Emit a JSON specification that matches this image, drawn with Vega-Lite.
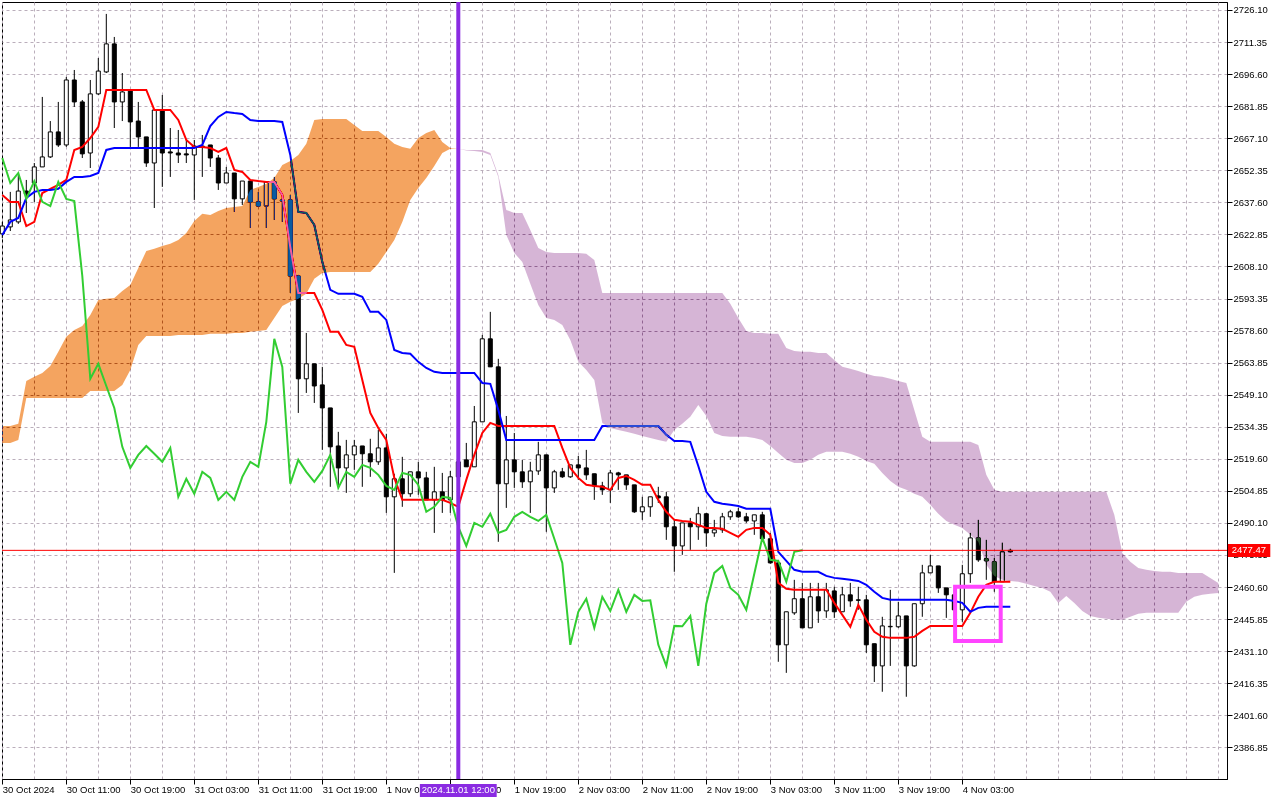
{
  "$schema": "https://vega.github.io/schema/vega-lite/v6.json",
  "width": 1225,
  "height": 777,
  "autosize": {"type": "none"},
  "padding": {"left": 2, "top": 2, "right": 53, "bottom": 21},
  "background": "white",
  "config": {
    "view": {"stroke": "black", "strokeWidth": 1, "fill": "white"},
    "font": "Liberation Sans",
    "axis": {"labelOverlap": false, "labelSeparation": 0}
  },
  "datasets": {
    "bars": [
      {"t":"2024-10-30T03:00Z","o":2623.1,"h":2628.6,"l":2621.2,"c":2626.7,"tk":2641.0,"kj":2622.6,"ck":2658.0},
      {"t":"2024-10-30T04:00Z","o":2626.3,"h":2642.4,"l":2624.4,"c":2629.5,"tk":2637.8,"kj":2628.6,"ck":2646.5},
      {"t":"2024-10-30T05:00Z","o":2628.6,"h":2650.2,"l":2627.7,"c":2642.8,"tk":2637.8,"kj":2630.4,"ck":2651.1},
      {"t":"2024-10-30T06:00Z","o":2642.8,"h":2647.9,"l":2632.7,"c":2641.5,"tk":2626.7,"kj":2639.6,"ck":2639.2},
      {"t":"2024-10-30T07:00Z","o":2646.5,"h":2655.7,"l":2637.8,"c":2653.9,"tk":2628.6,"kj":2642.4,"ck":2647.4},
      {"t":"2024-10-30T08:00Z","o":2653.9,"h":2686.1,"l":2653.9,"c":2658.5,"tk":2641.9,"kj":2643.3,"ck":2637.8},
      {"t":"2024-10-30T09:00Z","o":2658.5,"h":2675.0,"l":2658.0,"c":2670.0,"tk":2643.8,"kj":2643.3,"ck":2635.9},
      {"t":"2024-10-30T10:00Z","o":2670.0,"h":2683.8,"l":2663.1,"c":2664.0,"tk":2645.6,"kj":2643.8,"ck":2647.0},
      {"t":"2024-10-30T11:00Z","o":2664.0,"h":2695.3,"l":2663.1,"c":2693.9,"tk":2647.9,"kj":2647.0,"ck":2639.2},
      {"t":"2024-10-30T12:00Z","o":2693.9,"h":2698.5,"l":2681.5,"c":2683.8,"tk":2661.7,"kj":2649.3,"ck":2638.2},
      {"t":"2024-10-30T13:00Z","o":2683.8,"h":2684.7,"l":2658.0,"c":2659.9,"tk":2663.1,"kj":2649.3,"ck":2603.7},
      {"t":"2024-10-30T14:00Z","o":2660.3,"h":2693.9,"l":2653.4,"c":2687.5,"tk":2667.2,"kj":2649.7,"ck":2556.4},
      {"t":"2024-10-30T15:00Z","o":2687.5,"h":2704.0,"l":2687.0,"c":2698.0,"tk":2672.3,"kj":2651.1,"ck":2563.3},
      {"t":"2024-10-30T16:00Z","o":2697.6,"h":2724.3,"l":2697.1,"c":2710.5,"tk":2689.3,"kj":2661.7,"ck":2553.1},
      {"t":"2024-10-30T17:00Z","o":2710.5,"h":2713.7,"l":2671.8,"c":2683.8,"tk":2689.3,"kj":2662.6,"ck":2543.0},
      {"t":"2024-10-30T18:00Z","o":2683.8,"h":2697.1,"l":2675.0,"c":2688.4,"tk":2689.3,"kj":2662.6,"ck":2525.1},
      {"t":"2024-10-30T19:00Z","o":2688.8,"h":2689.3,"l":2663.1,"c":2674.6,"tk":2689.3,"kj":2662.6,"ck":2515.4},
      {"t":"2024-10-30T20:00Z","o":2675.0,"h":2683.8,"l":2663.1,"c":2667.7,"tk":2689.3,"kj":2662.6,"ck":2521.4},
      {"t":"2024-10-30T21:00Z","o":2667.7,"h":2667.7,"l":2653.9,"c":2655.7,"tk":2689.3,"kj":2662.6,"ck":2525.5},
      {"t":"2024-10-30T22:00Z","o":2655.7,"h":2680.1,"l":2635.0,"c":2680.1,"tk":2680.1,"kj":2662.6,"ck":2521.9},
      {"t":"2024-10-30T23:00Z","o":2680.1,"h":2687.0,"l":2644.7,"c":2660.3,"tk":2680.1,"kj":2662.6,"ck":2518.2},
      {"t":"2024-10-31T00:00Z","o":2660.8,"h":2671.8,"l":2649.3,"c":2660.3,"tk":2680.1,"kj":2662.6,"ck":2524.6},
      {"t":"2024-10-31T01:00Z","o":2660.3,"h":2670.9,"l":2655.7,"c":2659.4,"tk":2675.5,"kj":2662.6,"ck":2502.1},
      {"t":"2024-10-31T02:00Z","o":2659.9,"h":2666.3,"l":2655.7,"c":2659.4,"tk":2666.3,"kj":2662.6,"ck":2510.4},
      {"t":"2024-10-31T03:00Z","o":2659.4,"h":2666.3,"l":2638.7,"c":2663.5,"tk":2663.1,"kj":2662.6,"ck":2503.5},
      {"t":"2024-10-31T04:00Z","o":2663.5,"h":2668.6,"l":2649.3,"c":2663.1,"tk":2663.1,"kj":2664.0,"ck":2513.6},
      {"t":"2024-10-31T05:00Z","o":2664.0,"h":2664.0,"l":2653.9,"c":2658.0,"tk":2662.6,"kj":2672.7,"ck":2510.8},
      {"t":"2024-10-31T06:00Z","o":2658.0,"h":2659.4,"l":2643.3,"c":2646.5,"tk":2660.8,"kj":2676.9,"ck":2500.7},
      {"t":"2024-10-31T07:00Z","o":2646.5,"h":2653.9,"l":2646.5,"c":2651.1,"tk":2662.6,"kj":2679.2,"ck":2504.4},
      {"t":"2024-10-31T08:00Z","o":2651.1,"h":2651.1,"l":2633.2,"c":2639.2,"tk":2652.5,"kj":2678.7,"ck":2500.7},
      {"t":"2024-10-31T09:00Z","o":2639.2,"h":2647.4,"l":2636.4,"c":2647.4,"tk":2651.6,"kj":2678.3,"ck":2511.3},
      {"t":"2024-10-31T10:00Z","o":2647.4,"h":2647.4,"l":2625.8,"c":2637.8,"tk":2647.9,"kj":2675.5,"ck":2518.2},
      {"t":"2024-10-31T11:00Z","o":2637.8,"h":2642.4,"l":2635.5,"c":2635.9,"tk":2647.4,"kj":2675.0,"ck":2515.9},
      {"t":"2024-10-31T12:00Z","o":2635.9,"h":2647.0,"l":2625.8,"c":2647.0,"tk":2647.0,"kj":2675.0,"ck":2536.6},
      {"t":"2024-10-31T13:00Z","o":2647.0,"h":2649.3,"l":2629.5,"c":2639.2,"tk":2647.0,"kj":2675.0,"ck":2574.8},
      {"t":"2024-10-31T14:00Z","o":2638.7,"h":2639.6,"l":2628.6,"c":2638.2,"tk":2641.0,"kj":2674.6,"ck":2561.9},
      {"t":"2024-10-31T15:00Z","o":2638.7,"h":2641.0,"l":2595.9,"c":2603.7,"tk":2617.0,"kj":2659.4,"ck":2508.1},
      {"t":"2024-10-31T16:00Z","o":2603.7,"h":2604.2,"l":2540.7,"c":2556.4,"tk":2595.9,"kj":2633.2,"ck":2519.1},
      {"t":"2024-10-31T17:00Z","o":2556.4,"h":2577.5,"l":2549.9,"c":2563.3,"tk":2595.9,"kj":2632.7,"ck":2513.6},
      {"t":"2024-10-31T18:00Z","o":2563.3,"h":2563.3,"l":2545.3,"c":2553.1,"tk":2595.9,"kj":2627.2,"ck":2509.0},
      {"t":"2024-10-31T19:00Z","o":2553.6,"h":2561.9,"l":2523.7,"c":2543.0,"tk":2588.1,"kj":2610.2,"ck":2514.0},
      {"t":"2024-10-31T20:00Z","o":2543.0,"h":2543.0,"l":2506.7,"c":2525.1,"tk":2578.0,"kj":2597.3,"ck":2521.4},
      {"t":"2024-10-31T21:00Z","o":2525.5,"h":2532.0,"l":2506.7,"c":2515.4,"tk":2578.0,"kj":2595.5,"ck":2506.2},
      {"t":"2024-10-31T22:00Z","o":2515.4,"h":2528.3,"l":2503.9,"c":2521.4,"tk":2572.0,"kj":2595.5,"ck":2513.6},
      {"t":"2024-10-31T23:00Z","o":2521.4,"h":2528.3,"l":2514.5,"c":2525.5,"tk":2571.1,"kj":2595.5,"ck":2511.3},
      {"t":"2024-11-01T00:00Z","o":2525.5,"h":2525.5,"l":2506.7,"c":2521.9,"tk":2555.9,"kj":2594.1,"ck":2516.8},
      {"t":"2024-11-01T01:00Z","o":2521.9,"h":2528.8,"l":2511.3,"c":2518.2,"tk":2540.7,"kj":2587.2,"ck":2515.4},
      {"t":"2024-11-01T02:00Z","o":2518.2,"h":2532.9,"l":2516.8,"c":2524.6,"tk":2533.8,"kj":2587.2,"ck":2512.2},
      {"t":"2024-11-01T03:00Z","o":2524.6,"h":2531.1,"l":2494.7,"c":2502.1,"tk":2528.3,"kj":2583.5,"ck":2507.1},
      {"t":"2024-11-01T04:00Z","o":2502.1,"h":2512.7,"l":2467.1,"c":2510.4,"tk":2510.8,"kj":2569.7,"ck":2505.3},
      {"t":"2024-11-01T05:00Z","o":2510.4,"h":2520.5,"l":2497.5,"c":2503.5,"tk":2500.7,"kj":2568.3,"ck":2513.1},
      {"t":"2024-11-01T06:00Z","o":2503.5,"h":2513.6,"l":2502.1,"c":2513.6,"tk":2500.7,"kj":2567.9,"ck":2512.2},
      {"t":"2024-11-01T07:00Z","o":2513.6,"h":2518.2,"l":2503.0,"c":2510.8,"tk":2500.7,"kj":2564.2,"ck":2507.6},
      {"t":"2024-11-01T08:00Z","o":2510.8,"h":2513.6,"l":2500.7,"c":2500.7,"tk":2500.7,"kj":2561.4,"ck":2495.2},
      {"t":"2024-11-01T09:00Z","o":2500.7,"h":2515.9,"l":2485.5,"c":2504.4,"tk":2500.7,"kj":2559.6,"ck":2497.5},
      {"t":"2024-11-01T10:00Z","o":2504.4,"h":2513.1,"l":2494.7,"c":2500.7,"tk":2500.7,"kj":2559.1,"ck":2502.1},
      {"t":"2024-11-01T11:00Z","o":2500.7,"h":2514.0,"l":2494.7,"c":2511.3,"tk":2499.3,"kj":2559.1,"ck":2501.6},
      {"t":"2024-11-01T12:00Z","o":2511.3,"h":2521.4,"l":2505.3,"c":2518.2,"tk":2497.5,"kj":2559.1,"ck":2488.3},
      {"t":"2024-11-01T13:00Z","o":2519.1,"h":2526.9,"l":2515.9,"c":2515.9,"tk":2509.9,"kj":2559.1,"ck":2479.5},
      {"t":"2024-11-01T14:00Z","o":2515.9,"h":2543.9,"l":2515.9,"c":2536.6,"tk":2521.4,"kj":2559.1,"ck":2490.1},
      {"t":"2024-11-01T15:00Z","o":2536.6,"h":2576.6,"l":2536.6,"c":2574.8,"tk":2531.5,"kj":2554.5,"ck":2488.3},
      {"t":"2024-11-01T16:00Z","o":2574.8,"h":2587.2,"l":2561.9,"c":2561.9,"tk":2536.1,"kj":2554.1,"ck":2494.3},
      {"t":"2024-11-01T17:00Z","o":2561.9,"h":2565.6,"l":2481.4,"c":2508.1,"tk":2534.7,"kj":2542.1,"ck":2485.5},
      {"t":"2024-11-01T18:00Z","o":2508.1,"h":2539.3,"l":2497.0,"c":2519.1,"tk":2534.7,"kj":2528.3,"ck":2486.9},
      {"t":"2024-11-01T19:00Z","o":2519.1,"h":2531.5,"l":2506.2,"c":2513.6,"tk":2534.7,"kj":2528.3,"ck":2492.9},
      {"t":"2024-11-01T20:00Z","o":2513.6,"h":2519.1,"l":2506.2,"c":2509.0,"tk":2534.7,"kj":2528.3,"ck":2495.2},
      {"t":"2024-11-01T21:00Z","o":2509.0,"h":2518.2,"l":2494.7,"c":2514.0,"tk":2534.7,"kj":2528.3,"ck":2492.9},
      {"t":"2024-11-01T22:00Z","o":2514.0,"h":2527.4,"l":2512.2,"c":2521.4,"tk":2534.7,"kj":2528.3,"ck":2491.0},
      {"t":"2024-11-01T23:00Z","o":2521.4,"h":2521.4,"l":2486.0,"c":2506.2,"tk":2534.7,"kj":2528.3,"ck":2493.8},
      {"t":"2024-11-02T00:00Z","o":2506.2,"h":2514.5,"l":2503.9,"c":2513.6,"tk":2534.7,"kj":2528.3,"ck":2482.8},
      {"t":"2024-11-02T01:00Z","o":2513.6,"h":2515.4,"l":2510.8,"c":2511.3,"tk":2524.6,"kj":2528.3,"ck":2471.7},
      {"t":"2024-11-02T02:00Z","o":2511.3,"h":2516.8,"l":2510.8,"c":2516.8,"tk":2515.4,"kj":2528.3,"ck":2434.0},
      {"t":"2024-11-02T03:00Z","o":2516.8,"h":2520.9,"l":2509.9,"c":2515.4,"tk":2510.8,"kj":2528.3,"ck":2449.2},
      {"t":"2024-11-02T04:00Z","o":2515.4,"h":2523.7,"l":2509.9,"c":2512.2,"tk":2507.6,"kj":2528.3,"ck":2455.2},
      {"t":"2024-11-02T05:00Z","o":2512.7,"h":2512.7,"l":2500.7,"c":2507.1,"tk":2507.1,"kj":2528.3,"ck":2441.8},
      {"t":"2024-11-02T06:00Z","o":2507.1,"h":2509.0,"l":2503.0,"c":2505.3,"tk":2506.7,"kj":2534.7,"ck":2456.1},
      {"t":"2024-11-02T07:00Z","o":2505.3,"h":2514.5,"l":2499.3,"c":2513.1,"tk":2505.3,"kj":2534.7,"ck":2449.6},
      {"t":"2024-11-02T08:00Z","o":2513.1,"h":2513.6,"l":2505.3,"c":2512.2,"tk":2510.8,"kj":2534.7,"ck":2459.3},
      {"t":"2024-11-02T09:00Z","o":2512.2,"h":2512.2,"l":2505.3,"c":2507.6,"tk":2511.7,"kj":2534.7,"ck":2449.2},
      {"t":"2024-11-02T10:00Z","o":2507.6,"h":2507.6,"l":2494.7,"c":2495.2,"tk":2509.9,"kj":2534.7,"ck":2457.0},
      {"t":"2024-11-02T11:00Z","o":2495.2,"h":2502.1,"l":2491.5,"c":2497.5,"tk":2507.6,"kj":2534.7,"ck":2454.2},
      {"t":"2024-11-02T12:00Z","o":2497.5,"h":2502.1,"l":2492.9,"c":2502.1,"tk":2507.6,"kj":2534.7,"ck":2454.5},
      {"t":"2024-11-02T13:00Z","o":2502.5,"h":2506.7,"l":2499.3,"c":2501.6,"tk":2500.7,"kj":2534.7,"ck":2434.0},
      {"t":"2024-11-02T14:00Z","o":2502.1,"h":2504.4,"l":2482.3,"c":2488.3,"tk":2495.2,"kj":2530.6,"ck":2424.3},
      {"t":"2024-11-02T15:00Z","o":2488.3,"h":2491.5,"l":2467.6,"c":2479.5,"tk":2491.5,"kj":2527.8,"ck":2442.7},
      {"t":"2024-11-02T16:00Z","o":2479.5,"h":2490.1,"l":2475.4,"c":2490.1,"tk":2491.0,"kj":2527.8,"ck":2442.5},
      {"t":"2024-11-02T17:00Z","o":2490.1,"h":2492.4,"l":2477.7,"c":2488.3,"tk":2490.6,"kj":2527.4,"ck":2447.3},
      {"t":"2024-11-02T18:00Z","o":2488.3,"h":2497.5,"l":2482.3,"c":2494.3,"tk":2489.2,"kj":2516.3,"ck":2424.3},
      {"t":"2024-11-02T19:00Z","o":2494.3,"h":2494.7,"l":2479.1,"c":2485.5,"tk":2487.8,"kj":2504.4,"ck":2452.9},
      {"t":"2024-11-02T20:00Z","o":2485.5,"h":2491.5,"l":2483.7,"c":2486.9,"tk":2487.8,"kj":2499.8,"ck":2467.1},
      {"t":"2024-11-02T21:00Z","o":2486.9,"h":2494.7,"l":2485.5,"c":2492.9,"tk":2487.4,"kj":2498.9,"ck":2470.3},
      {"t":"2024-11-02T22:00Z","o":2492.9,"h":2496.1,"l":2491.5,"c":2495.2,"tk":2485.5,"kj":2498.4,"ck":2460.2},
      {"t":"2024-11-02T23:00Z","o":2495.2,"h":2497.0,"l":2492.4,"c":2492.9,"tk":2483.7,"kj":2497.9,"ck":2457.0},
      {"t":"2024-11-03T00:00Z","o":2492.9,"h":2494.7,"l":2490.1,"c":2491.0,"tk":2486.9,"kj":2496.6,"ck":2450.1},
      {"t":"2024-11-03T01:00Z","o":2491.0,"h":2493.8,"l":2484.6,"c":2493.8,"tk":2487.8,"kj":2496.6,"ck":2466.7},
      {"t":"2024-11-03T02:00Z","o":2493.8,"h":2495.2,"l":2482.3,"c":2482.8,"tk":2487.8,"kj":2496.6,"ck":2483.2},
      {"t":"2024-11-03T03:00Z","o":2482.8,"h":2485.5,"l":2471.3,"c":2471.7,"tk":2484.6,"kj":2496.6,"ck":2473.1},
      {"t":"2024-11-03T04:00Z","o":2471.7,"h":2473.1,"l":2426.2,"c":2434.0,"tk":2462.5,"kj":2476.8,"ck":2472.6},
      {"t":"2024-11-03T05:00Z","o":2434.0,"h":2449.2,"l":2421.1,"c":2449.2,"tk":2459.8,"kj":2472.6,"ck":2463.0},
      {"t":"2024-11-03T06:00Z","o":2448.7,"h":2463.9,"l":2447.8,"c":2455.2,"tk":2459.3,"kj":2468.5,"ck":2476.8},
      {"t":"2024-11-03T07:00Z","o":2455.2,"h":2462.5,"l":2441.8,"c":2441.8,"tk":2459.3,"kj":2467.6,"ck":2477.47},
      {"t":"2024-11-03T08:00Z","o":2441.8,"h":2462.5,"l":2441.8,"c":2456.1,"tk":2459.3,"kj":2467.6},
      {"t":"2024-11-03T09:00Z","o":2456.1,"h":2462.5,"l":2444.1,"c":2449.6,"tk":2459.3,"kj":2467.6},
      {"t":"2024-11-03T10:00Z","o":2449.6,"h":2462.5,"l":2446.4,"c":2459.3,"tk":2459.3,"kj":2465.7},
      {"t":"2024-11-03T11:00Z","o":2458.8,"h":2460.7,"l":2446.4,"c":2449.2,"tk":2453.3,"kj":2464.8},
      {"t":"2024-11-03T12:00Z","o":2449.2,"h":2460.7,"l":2449.2,"c":2457.0,"tk":2447.8,"kj":2464.4},
      {"t":"2024-11-03T13:00Z","o":2457.0,"h":2462.5,"l":2451.5,"c":2454.2,"tk":2442.3,"kj":2463.9},
      {"t":"2024-11-03T14:00Z","o":2454.7,"h":2460.7,"l":2450.1,"c":2454.5,"tk":2452.4,"kj":2463.4},
      {"t":"2024-11-03T15:00Z","o":2454.7,"h":2457.0,"l":2430.3,"c":2434.0,"tk":2445.5,"kj":2461.6},
      {"t":"2024-11-03T16:00Z","o":2434.5,"h":2434.5,"l":2416.9,"c":2424.3,"tk":2440.0,"kj":2458.4},
      {"t":"2024-11-03T17:00Z","o":2424.3,"h":2446.9,"l":2412.4,"c":2442.7,"tk":2437.7,"kj":2455.6},
      {"t":"2024-11-03T18:00Z","o":2442.3,"h":2459.3,"l":2424.3,"c":2442.5,"tk":2437.2,"kj":2454.7},
      {"t":"2024-11-03T19:00Z","o":2442.3,"h":2453.8,"l":2441.8,"c":2447.3,"tk":2437.2,"kj":2454.7},
      {"t":"2024-11-03T20:00Z","o":2447.3,"h":2447.3,"l":2410.1,"c":2424.3,"tk":2437.2,"kj":2454.7},
      {"t":"2024-11-03T21:00Z","o":2424.3,"h":2452.9,"l":2423.9,"c":2452.9,"tk":2437.7,"kj":2454.7},
      {"t":"2024-11-03T22:00Z","o":2452.9,"h":2470.8,"l":2446.9,"c":2467.1,"tk":2440.4,"kj":2454.7},
      {"t":"2024-11-03T23:00Z","o":2467.1,"h":2475.4,"l":2467.1,"c":2470.3,"tk":2442.7,"kj":2454.7},
      {"t":"2024-11-04T00:00Z","o":2470.3,"h":2470.3,"l":2457.9,"c":2460.2,"tk":2442.7,"kj":2454.7},
      {"t":"2024-11-04T01:00Z","o":2460.2,"h":2460.2,"l":2446.4,"c":2457.0,"tk":2442.7,"kj":2454.7},
      {"t":"2024-11-04T02:00Z","o":2457.0,"h":2459.3,"l":2445.5,"c":2450.1,"tk":2442.7,"kj":2454.2},
      {"t":"2024-11-04T03:00Z","o":2450.1,"h":2470.8,"l":2444.6,"c":2466.7,"tk":2442.7,"kj":2453.3},
      {"t":"2024-11-04T04:00Z","o":2466.7,"h":2485.5,"l":2462.5,"c":2483.2,"tk":2448.7,"kj":2449.2},
      {"t":"2024-11-04T05:00Z","o":2483.2,"h":2491.5,"l":2472.2,"c":2473.1,"tk":2456.1,"kj":2451.0},
      {"t":"2024-11-04T06:00Z","o":2473.6,"h":2482.3,"l":2463.9,"c":2472.6,"tk":2461.6,"kj":2451.5},
      {"t":"2024-11-04T07:00Z","o":2472.2,"h":2474.0,"l":2458.4,"c":2463.0,"tk":2463.0,"kj":2451.5},
      {"t":"2024-11-04T08:00Z","o":2463.0,"h":2481.0,"l":2463.0,"c":2476.8,"tk":2463.0,"kj":2451.5},
      {"t":"2024-11-04T09:00Z","o":2476.8,"h":2478.2,"l":2476.5,"c":2477.47,"tk":2463.0,"kj":2451.5}
    ],
    "cloud": [
      {"k":"u","t":"2024-10-30T03:00Z","hi":2534.7,"lo":2526.9},
      {"k":"u","t":"2024-10-30T04:00Z","hi":2534.7,"lo":2526.9},
      {"k":"u","t":"2024-10-30T05:00Z","hi":2535.7,"lo":2528.3},
      {"k":"u","t":"2024-10-30T06:00Z","hi":2555.4,"lo":2547.6},
      {"k":"u","t":"2024-10-30T07:00Z","hi":2557.3,"lo":2547.6},
      {"k":"u","t":"2024-10-30T08:00Z","hi":2559.1,"lo":2547.6},
      {"k":"u","t":"2024-10-30T09:00Z","hi":2562.3,"lo":2547.6},
      {"k":"u","t":"2024-10-30T10:00Z","hi":2568.8,"lo":2547.6},
      {"k":"u","t":"2024-10-30T11:00Z","hi":2575.7,"lo":2547.6},
      {"k":"u","t":"2024-10-30T12:00Z","hi":2578.9,"lo":2547.6},
      {"k":"u","t":"2024-10-30T13:00Z","hi":2580.7,"lo":2547.6},
      {"k":"u","t":"2024-10-30T14:00Z","hi":2585.8,"lo":2550.8},
      {"k":"u","t":"2024-10-30T15:00Z","hi":2592.7,"lo":2550.8},
      {"k":"u","t":"2024-10-30T16:00Z","hi":2593.2,"lo":2550.8},
      {"k":"u","t":"2024-10-30T17:00Z","hi":2593.6,"lo":2550.8},
      {"k":"u","t":"2024-10-30T18:00Z","hi":2596.8,"lo":2553.6},
      {"k":"u","t":"2024-10-30T19:00Z","hi":2599.6,"lo":2560.5},
      {"k":"u","t":"2024-10-30T20:00Z","hi":2607.4,"lo":2572.0},
      {"k":"u","t":"2024-10-30T21:00Z","hi":2615.2,"lo":2576.1},
      {"k":"u","t":"2024-10-30T22:00Z","hi":2616.2,"lo":2576.1},
      {"k":"u","t":"2024-10-30T23:00Z","hi":2617.5,"lo":2576.1},
      {"k":"u","t":"2024-10-31T00:00Z","hi":2618.5,"lo":2576.1},
      {"k":"u","t":"2024-10-31T01:00Z","hi":2620.3,"lo":2576.6},
      {"k":"u","t":"2024-10-31T02:00Z","hi":2623.5,"lo":2576.6},
      {"k":"u","t":"2024-10-31T03:00Z","hi":2629.0,"lo":2576.6},
      {"k":"u","t":"2024-10-31T04:00Z","hi":2632.3,"lo":2576.6},
      {"k":"u","t":"2024-10-31T05:00Z","hi":2631.8,"lo":2577.1},
      {"k":"u","t":"2024-10-31T06:00Z","hi":2633.6,"lo":2577.1},
      {"k":"u","t":"2024-10-31T07:00Z","hi":2635.0,"lo":2577.1},
      {"k":"u","t":"2024-10-31T08:00Z","hi":2635.5,"lo":2577.5},
      {"k":"u","t":"2024-10-31T09:00Z","hi":2635.9,"lo":2577.5},
      {"k":"u","t":"2024-10-31T10:00Z","hi":2643.3,"lo":2578.0},
      {"k":"u","t":"2024-10-31T11:00Z","hi":2644.7,"lo":2578.4},
      {"k":"u","t":"2024-10-31T12:00Z","hi":2646.1,"lo":2578.9},
      {"k":"u","t":"2024-10-31T13:00Z","hi":2648.8,"lo":2584.4},
      {"k":"u","t":"2024-10-31T14:00Z","hi":2654.8,"lo":2589.9},
      {"k":"u","t":"2024-10-31T15:00Z","hi":2656.6,"lo":2591.8},
      {"k":"u","t":"2024-10-31T16:00Z","hi":2659.4,"lo":2593.2},
      {"k":"u","t":"2024-10-31T17:00Z","hi":2664.5,"lo":2595.5},
      {"k":"u","t":"2024-10-31T18:00Z","hi":2675.5,"lo":2602.4},
      {"k":"u","t":"2024-10-31T19:00Z","hi":2676.0,"lo":2605.1},
      {"k":"u","t":"2024-10-31T20:00Z","hi":2676.0,"lo":2605.6},
      {"k":"u","t":"2024-10-31T21:00Z","hi":2676.0,"lo":2605.6},
      {"k":"u","t":"2024-10-31T22:00Z","hi":2676.0,"lo":2605.6},
      {"k":"u","t":"2024-10-31T23:00Z","hi":2673.2,"lo":2605.6},
      {"k":"u","t":"2024-11-01T00:00Z","hi":2670.4,"lo":2605.6},
      {"k":"u","t":"2024-11-01T01:00Z","hi":2670.4,"lo":2605.6},
      {"k":"u","t":"2024-11-01T02:00Z","hi":2670.4,"lo":2609.3},
      {"k":"u","t":"2024-11-01T03:00Z","hi":2667.7,"lo":2614.8},
      {"k":"u","t":"2024-11-01T04:00Z","hi":2664.5,"lo":2620.3},
      {"k":"u","t":"2024-11-01T05:00Z","hi":2663.1,"lo":2628.6},
      {"k":"u","t":"2024-11-01T06:00Z","hi":2662.2,"lo":2638.7},
      {"k":"u","t":"2024-11-01T07:00Z","hi":2667.2,"lo":2644.2},
      {"k":"u","t":"2024-11-01T08:00Z","hi":2669.5,"lo":2648.8},
      {"k":"u","t":"2024-11-01T09:00Z","hi":2670.9,"lo":2654.3},
      {"k":"u","t":"2024-11-01T10:00Z","hi":2665.4,"lo":2660.3},
      {"k":"u","t":"2024-11-01T11:00Z","hi":2662.6,"lo":2662.2},
      {"k":"u","t":"2024-11-01T12:00Z","hi":2662.2,"lo":2662.2},
      {"k":"d","t":"2024-11-01T12:00Z","hi":2662.2,"lo":2662.2},
      {"k":"d","t":"2024-11-01T13:00Z","hi":2661.7,"lo":2661.5},
      {"k":"d","t":"2024-11-01T14:00Z","hi":2661.7,"lo":2661.2},
      {"k":"d","t":"2024-11-01T15:00Z","hi":2661.7,"lo":2660.8},
      {"k":"d","t":"2024-11-01T16:00Z","hi":2660.3,"lo":2659.4},
      {"k":"d","t":"2024-11-01T17:00Z","hi":2650.2,"lo":2649.3},
      {"k":"d","t":"2024-11-01T18:00Z","hi":2634.1,"lo":2622.6},
      {"k":"d","t":"2024-11-01T19:00Z","hi":2632.7,"lo":2614.3},
      {"k":"d","t":"2024-11-01T20:00Z","hi":2632.7,"lo":2610.2},
      {"k":"d","t":"2024-11-01T21:00Z","hi":2624.9,"lo":2600.1},
      {"k":"d","t":"2024-11-01T22:00Z","hi":2616.6,"lo":2590.4},
      {"k":"d","t":"2024-11-01T23:00Z","hi":2614.8,"lo":2584.4},
      {"k":"d","t":"2024-11-02T00:00Z","hi":2614.3,"lo":2583.5},
      {"k":"d","t":"2024-11-02T01:00Z","hi":2614.3,"lo":2581.2},
      {"k":"d","t":"2024-11-02T02:00Z","hi":2614.3,"lo":2574.3},
      {"k":"d","t":"2024-11-02T03:00Z","hi":2614.3,"lo":2564.2},
      {"k":"d","t":"2024-11-02T04:00Z","hi":2613.9,"lo":2560.5},
      {"k":"d","t":"2024-11-02T05:00Z","hi":2611.1,"lo":2555.9},
      {"k":"d","t":"2024-11-02T06:00Z","hi":2595.9,"lo":2536.1},
      {"k":"d","t":"2024-11-02T07:00Z","hi":2595.9,"lo":2533.8},
      {"k":"d","t":"2024-11-02T08:00Z","hi":2595.9,"lo":2532.9},
      {"k":"d","t":"2024-11-02T09:00Z","hi":2595.9,"lo":2532.0},
      {"k":"d","t":"2024-11-02T10:00Z","hi":2595.9,"lo":2531.1},
      {"k":"d","t":"2024-11-02T11:00Z","hi":2595.9,"lo":2530.1},
      {"k":"d","t":"2024-11-02T12:00Z","hi":2595.9,"lo":2529.2},
      {"k":"d","t":"2024-11-02T13:00Z","hi":2595.9,"lo":2528.3},
      {"k":"d","t":"2024-11-02T14:00Z","hi":2595.9,"lo":2527.4},
      {"k":"d","t":"2024-11-02T15:00Z","hi":2595.9,"lo":2532.9},
      {"k":"d","t":"2024-11-02T16:00Z","hi":2595.9,"lo":2535.7},
      {"k":"d","t":"2024-11-02T17:00Z","hi":2595.9,"lo":2538.9},
      {"k":"d","t":"2024-11-02T18:00Z","hi":2595.9,"lo":2544.4},
      {"k":"d","t":"2024-11-02T19:00Z","hi":2595.9,"lo":2539.3},
      {"k":"d","t":"2024-11-02T20:00Z","hi":2595.9,"lo":2531.5},
      {"k":"d","t":"2024-11-02T21:00Z","hi":2595.9,"lo":2530.1},
      {"k":"d","t":"2024-11-02T22:00Z","hi":2590.9,"lo":2529.7},
      {"k":"d","t":"2024-11-02T23:00Z","hi":2584.4,"lo":2529.7},
      {"k":"d","t":"2024-11-03T00:00Z","hi":2578.4,"lo":2529.7},
      {"k":"d","t":"2024-11-03T01:00Z","hi":2577.5,"lo":2529.2},
      {"k":"d","t":"2024-11-03T02:00Z","hi":2577.5,"lo":2528.3},
      {"k":"d","t":"2024-11-03T03:00Z","hi":2577.1,"lo":2525.5},
      {"k":"d","t":"2024-11-03T04:00Z","hi":2577.1,"lo":2522.3},
      {"k":"d","t":"2024-11-03T05:00Z","hi":2570.6,"lo":2519.1},
      {"k":"d","t":"2024-11-03T06:00Z","hi":2569.2,"lo":2517.7},
      {"k":"d","t":"2024-11-03T07:00Z","hi":2568.8,"lo":2517.7},
      {"k":"d","t":"2024-11-03T08:00Z","hi":2568.8,"lo":2519.1},
      {"k":"d","t":"2024-11-03T09:00Z","hi":2568.3,"lo":2521.4},
      {"k":"d","t":"2024-11-03T10:00Z","hi":2568.3,"lo":2522.8},
      {"k":"d","t":"2024-11-03T11:00Z","hi":2565.1,"lo":2522.8},
      {"k":"d","t":"2024-11-03T12:00Z","hi":2561.9,"lo":2522.8},
      {"k":"d","t":"2024-11-03T13:00Z","hi":2561.0,"lo":2521.9},
      {"k":"d","t":"2024-11-03T14:00Z","hi":2560.0,"lo":2520.5},
      {"k":"d","t":"2024-11-03T15:00Z","hi":2558.7,"lo":2518.6},
      {"k":"d","t":"2024-11-03T16:00Z","hi":2557.7,"lo":2517.3},
      {"k":"d","t":"2024-11-03T17:00Z","hi":2557.3,"lo":2513.1},
      {"k":"d","t":"2024-11-03T18:00Z","hi":2556.4,"lo":2509.4},
      {"k":"d","t":"2024-11-03T19:00Z","hi":2555.4,"lo":2506.7},
      {"k":"d","t":"2024-11-03T20:00Z","hi":2554.5,"lo":2505.3},
      {"k":"d","t":"2024-11-03T21:00Z","hi":2542.1,"lo":2503.5},
      {"k":"d","t":"2024-11-03T22:00Z","hi":2529.7,"lo":2502.1},
      {"k":"d","t":"2024-11-03T23:00Z","hi":2527.4,"lo":2498.4},
      {"k":"d","t":"2024-11-04T00:00Z","hi":2527.4,"lo":2494.3},
      {"k":"d","t":"2024-11-04T01:00Z","hi":2527.4,"lo":2491.0},
      {"k":"d","t":"2024-11-04T02:00Z","hi":2527.4,"lo":2489.2},
      {"k":"d","t":"2024-11-04T03:00Z","hi":2527.4,"lo":2487.8},
      {"k":"d","t":"2024-11-04T04:00Z","hi":2527.4,"lo":2484.6},
      {"k":"d","t":"2024-11-04T05:00Z","hi":2526.0,"lo":2481.4},
      {"k":"d","t":"2024-11-04T06:00Z","hi":2512.2,"lo":2470.8},
      {"k":"d","t":"2024-11-04T07:00Z","hi":2505.3,"lo":2465.7},
      {"k":"d","t":"2024-11-04T08:00Z","hi":2504.4,"lo":2463.9},
      {"k":"d","t":"2024-11-04T09:00Z","hi":2504.4,"lo":2463.4},
      {"k":"d","t":"2024-11-04T10:00Z","hi":2504.4,"lo":2463.0},
      {"k":"d","t":"2024-11-04T11:00Z","hi":2504.4,"lo":2462.1},
      {"k":"d","t":"2024-11-04T12:00Z","hi":2504.4,"lo":2461.1},
      {"k":"d","t":"2024-11-04T13:00Z","hi":2504.4,"lo":2460.2},
      {"k":"d","t":"2024-11-04T14:00Z","hi":2504.4,"lo":2458.4},
      {"k":"d","t":"2024-11-04T15:00Z","hi":2504.4,"lo":2453.3},
      {"k":"d","t":"2024-11-04T16:00Z","hi":2504.4,"lo":2456.5},
      {"k":"d","t":"2024-11-04T17:00Z","hi":2504.4,"lo":2453.3},
      {"k":"d","t":"2024-11-04T18:00Z","hi":2504.4,"lo":2449.6},
      {"k":"d","t":"2024-11-04T19:00Z","hi":2504.4,"lo":2447.3},
      {"k":"d","t":"2024-11-04T20:00Z","hi":2504.4,"lo":2446.4},
      {"k":"d","t":"2024-11-04T21:00Z","hi":2504.4,"lo":2446.0},
      {"k":"d","t":"2024-11-04T22:00Z","hi":2493.8,"lo":2445.5},
      {"k":"d","t":"2024-11-04T23:00Z","hi":2476.3,"lo":2445.5},
      {"k":"d","t":"2024-11-05T00:00Z","hi":2472.2,"lo":2446.9},
      {"k":"d","t":"2024-11-05T01:00Z","hi":2469.4,"lo":2448.3},
      {"k":"d","t":"2024-11-05T02:00Z","hi":2468.5,"lo":2448.7},
      {"k":"d","t":"2024-11-05T03:00Z","hi":2468.0,"lo":2448.7},
      {"k":"d","t":"2024-11-05T04:00Z","hi":2467.6,"lo":2448.7},
      {"k":"d","t":"2024-11-05T05:00Z","hi":2467.6,"lo":2448.7},
      {"k":"d","t":"2024-11-05T06:00Z","hi":2467.1,"lo":2448.7},
      {"k":"d","t":"2024-11-05T07:00Z","hi":2467.1,"lo":2453.8},
      {"k":"d","t":"2024-11-05T08:00Z","hi":2467.1,"lo":2456.1},
      {"k":"d","t":"2024-11-05T09:00Z","hi":2467.1,"lo":2457.0},
      {"k":"d","t":"2024-11-05T10:00Z","hi":2464.8,"lo":2457.5},
      {"k":"d","t":"2024-11-05T11:00Z","hi":2462.5,"lo":2457.9}
    ]
  },
  "layer": [
    {
      "data": {"name": "bars"},
      "mark": {"type": "rule", "color": "black", "strokeWidth": 1},
      "encoding": {
        "x": {
          "field": "t", "type": "temporal",
          "scale": {"type": "utc", "padding": 0, "domain": [
            {"year": 2024, "month": 10, "date": 30, "hours": 2, "minutes": 57, "seconds": 45, "utc": true},
            {"year": 2024, "month": 11, "date": 5, "hours": 12, "minutes": 5, "seconds": 15, "utc": true}
          ]},
          "axis": {
            "title": null,
            "tickCount": 200,
            "values": [
              {"year": 2024, "month": 10, "date": 30, "hours": 3, "utc": true}, {"year": 2024, "month": 10, "date": 30, "hours": 7, "utc": true},
              {"year": 2024, "month": 10, "date": 30, "hours": 11, "utc": true}, {"year": 2024, "month": 10, "date": 30, "hours": 15, "utc": true},
              {"year": 2024, "month": 10, "date": 30, "hours": 19, "utc": true}, {"year": 2024, "month": 10, "date": 30, "hours": 23, "utc": true},
              {"year": 2024, "month": 10, "date": 31, "hours": 3, "utc": true}, {"year": 2024, "month": 10, "date": 31, "hours": 7, "utc": true},
              {"year": 2024, "month": 10, "date": 31, "hours": 11, "utc": true}, {"year": 2024, "month": 10, "date": 31, "hours": 15, "utc": true},
              {"year": 2024, "month": 10, "date": 31, "hours": 19, "utc": true}, {"year": 2024, "month": 10, "date": 31, "hours": 23, "utc": true},
              {"year": 2024, "month": 11, "date": 1, "hours": 3, "utc": true}, {"year": 2024, "month": 11, "date": 1, "hours": 7, "utc": true},
              {"year": 2024, "month": 11, "date": 1, "hours": 11, "utc": true}, {"year": 2024, "month": 11, "date": 1, "hours": 15, "utc": true},
              {"year": 2024, "month": 11, "date": 1, "hours": 19, "utc": true}, {"year": 2024, "month": 11, "date": 1, "hours": 23, "utc": true},
              {"year": 2024, "month": 11, "date": 2, "hours": 3, "utc": true}, {"year": 2024, "month": 11, "date": 2, "hours": 7, "utc": true},
              {"year": 2024, "month": 11, "date": 2, "hours": 11, "utc": true}, {"year": 2024, "month": 11, "date": 2, "hours": 15, "utc": true},
              {"year": 2024, "month": 11, "date": 2, "hours": 19, "utc": true}, {"year": 2024, "month": 11, "date": 2, "hours": 23, "utc": true},
              {"year": 2024, "month": 11, "date": 3, "hours": 3, "utc": true}, {"year": 2024, "month": 11, "date": 3, "hours": 7, "utc": true},
              {"year": 2024, "month": 11, "date": 3, "hours": 11, "utc": true}, {"year": 2024, "month": 11, "date": 3, "hours": 15, "utc": true},
              {"year": 2024, "month": 11, "date": 3, "hours": 19, "utc": true}, {"year": 2024, "month": 11, "date": 3, "hours": 23, "utc": true},
              {"year": 2024, "month": 11, "date": 4, "hours": 3, "utc": true}, {"year": 2024, "month": 11, "date": 4, "hours": 7, "utc": true},
              {"year": 2024, "month": 11, "date": 4, "hours": 11, "utc": true}, {"year": 2024, "month": 11, "date": 4, "hours": 15, "utc": true},
              {"year": 2024, "month": 11, "date": 4, "hours": 19, "utc": true}, {"year": 2024, "month": 11, "date": 4, "hours": 23, "utc": true},
              {"year": 2024, "month": 11, "date": 5, "hours": 3, "utc": true}, {"year": 2024, "month": 11, "date": 5, "hours": 7, "utc": true},
              {"year": 2024, "month": 11, "date": 5, "hours": 11, "utc": true}
            ],
            "labelExpr": "(utchours(datum.value) % 8 != 3 || time(datum.value) > utc(2024, 10, 4, 3, 0)) ? '' : (time(datum.value) == utc(2024, 9, 30, 3, 0) ? '30 Oct 2024' : utcFormat(datum.value, '%-d %b %H:%M'))",
            "labelAlign": "left",
            "labelBaseline": "top",
            "labelFlush": false,
            "labelOverlap": false,
            "labelBound": false,
            "labelPadding": 0,
            "labelFont": "Liberation Sans",
            "labelFontSize": 9.5,
            "labelColor": "black",
            "tickSize": 5,
            "tickColor": "black",
            "tickOpacity": {"condition": {"test": "utchours(datum.value) % 8 == 3 && time(datum.value) <= utc(2024, 10, 4, 3, 0)", "value": 1}, "value": 0},
            "domainColor": "black",
            "grid": true,
            "gridColor": "#baaebb",
            "gridDash": [3, 3],
            "gridWidth": 1
          }
        },
        "y": {
          "field": "l", "type": "quantitative",
          "scale": {"domain": [2372.26, 2729.78], "nice": false, "zero": false, "padding": 0},
          "axis": {
            "title": null,
            "orient": "right",
            "tickCount": 200,
            "values": [2726.1, 2711.35, 2696.6, 2681.85, 2667.1, 2652.35, 2637.6, 2622.85, 2608.1, 2593.35, 2578.6, 2563.85, 2549.1, 2534.35, 2519.6, 2504.85, 2490.1, 2475.35, 2460.6, 2445.85, 2431.1, 2416.35, 2401.6, 2386.85],
            "format": ".2f",
            "labelFont": "Liberation Sans",
            "labelFontSize": 9.5,
            "labelColor": "black",
            "labelPadding": 1,
            "labelOverlap": false,
            "labelFlush": false,
            "tickSize": 5,
            "tickColor": "black",
            "domainColor": "black",
            "grid": true,
            "gridColor": "#baaebb",
            "gridDash": [3, 3],
            "gridWidth": 1
          }
        },
        "y2": {"field": "h"}
      }
    },
    {
      "data": {"name": "bars"},
      "mark": {"type": "bar", "width": 4, "stroke": "black", "strokeWidth": 1},
      "encoding": {
        "x": {"field": "t", "type": "temporal"},
        "y": {"field": "o", "type": "quantitative"},
        "y2": {"field": "c"},
        "fill": {"condition": {"test": "datum.c >= datum.o", "value": "white"}, "value": "black"}
      }
    },
    {
      "data": {"name": "bars"},
      "mark": {"type": "line", "color": "#ff0000", "strokeWidth": 2},
      "encoding": {
        "x": {"field": "t", "type": "temporal"},
        "y": {"field": "tk", "type": "quantitative"}
      }
    },
    {
      "data": {"name": "bars"},
      "mark": {"type": "line", "color": "#0000ff", "strokeWidth": 2},
      "encoding": {
        "x": {"field": "t", "type": "temporal"},
        "y": {"field": "kj", "type": "quantitative"}
      }
    },
    {
      "data": {"name": "cloud"},
      "transform": [{"filter": "datum.k == 'u'"}],
      "mark": {"type": "area", "color": "#0b5b9f", "opacity": 1, "blend": "difference", "clip": false},
      "encoding": {
        "x": {"field": "t", "type": "temporal"},
        "y": {"field": "hi", "type": "quantitative"},
        "y2": {"field": "lo"}
      }
    },
    {
      "data": {"name": "cloud"},
      "transform": [{"filter": "datum.k == 'd'"}],
      "mark": {"type": "area", "color": "#294a29", "opacity": 1, "blend": "difference", "clip": false},
      "encoding": {
        "x": {"field": "t", "type": "temporal"},
        "y": {"field": "hi", "type": "quantitative"},
        "y2": {"field": "lo"}
      }
    },
    {
      "data": {"name": "bars"},
      "mark": {"type": "line", "color": "#32cd32", "strokeWidth": 2},
      "encoding": {
        "x": {"field": "t", "type": "temporal"},
        "y": {"field": "ck", "type": "quantitative"}
      }
    },
    {
      "data": {"values": [{}]},
      "mark": {"type": "rule", "color": "#ff0000", "strokeWidth": 1},
      "encoding": {
        "y": {"datum": 2477.47, "type": "quantitative"}
      }
    },
    {
      "data": {"values": [{}]},
      "mark": {"type": "rect", "fillOpacity": 0, "stroke": "#ff44ff", "strokeWidth": 4},
      "encoding": {
        "x": {"datum": {"year": 2024, "month": 11, "date": 4, "hours": 2, "minutes": 6, "utc": true}, "type": "temporal"},
        "x2": {"datum": {"year": 2024, "month": 11, "date": 4, "hours": 7, "minutes": 48, "utc": true}},
        "y": {"datum": 2460.7, "type": "quantitative"},
        "y2": {"datum": 2435.8}
      }
    },
    {
      "data": {"values": [{}]},
      "mark": {"type": "rule", "color": "#8a2be2", "strokeWidth": 4},
      "encoding": {
        "x": {"datum": {"year": 2024, "month": 11, "date": 1, "hours": 12, "utc": true}, "type": "temporal"}
      }
    },
    {
      "data": {"values": [{}]},
      "mark": {"type": "rect", "color": "#8a2be2", "clip": false},
      "encoding": {
        "x": {"datum": {"year": 2024, "month": 11, "date": 1, "hours": 7, "minutes": 12, "utc": true}, "type": "temporal"},
        "x2": {"datum": {"year": 2024, "month": 11, "date": 1, "hours": 16, "minutes": 48, "utc": true}},
        "y": {"datum": 2370.0, "type": "quantitative"},
        "y2": {"datum": 2364.0}
      }
    },
    {
      "data": {"values": [{}]},
      "mark": {"type": "text", "color": "white", "font": "Liberation Sans", "fontSize": 9.5, "align": "center", "baseline": "middle", "clip": false},
      "encoding": {
        "x": {"datum": {"year": 2024, "month": 11, "date": 1, "hours": 12, "utc": true}, "type": "temporal"},
        "y": {"datum": 2367.0, "type": "quantitative"},
        "text": {"value": "2024.11.01 12:00"}
      }
    },
    {
      "data": {"values": [{}]},
      "mark": {"type": "rect", "color": "#ff0000", "clip": false},
      "encoding": {
        "x": {"datum": {"year": 2024, "month": 11, "date": 5, "hours": 12, "minutes": 12, "utc": true}, "type": "temporal"},
        "x2": {"datum": {"year": 2024, "month": 11, "date": 5, "hours": 17, "minutes": 30, "utc": true}},
        "y": {"datum": 2480.4, "type": "quantitative"},
        "y2": {"datum": 2474.4}
      }
    },
    {
      "data": {"values": [{}]},
      "mark": {"type": "text", "color": "white", "font": "Liberation Sans", "fontSize": 9.5, "align": "left", "baseline": "middle", "clip": false},
      "encoding": {
        "x": {"datum": {"year": 2024, "month": 11, "date": 5, "hours": 12, "minutes": 40, "utc": true}, "type": "temporal"},
        "y": {"datum": 2477.47, "type": "quantitative"},
        "text": {"value": "2477.47"}
      }
    }
  ]
}
